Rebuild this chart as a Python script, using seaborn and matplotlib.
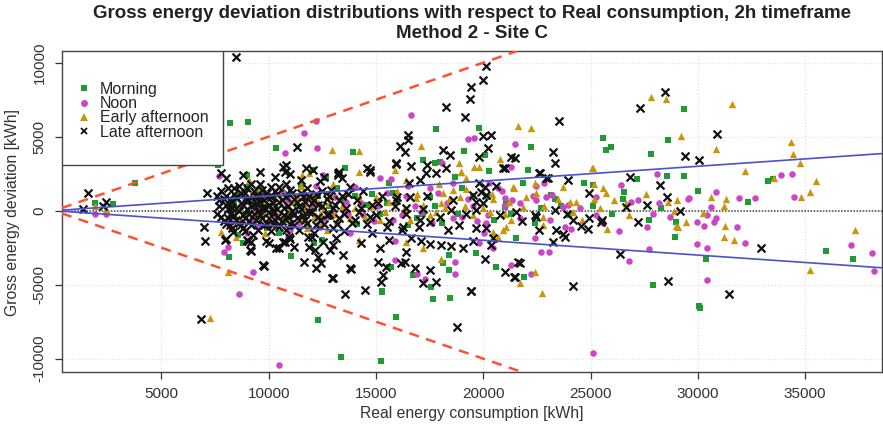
import numpy as np
import pandas as pd
import matplotlib
matplotlib.use('Agg')
import matplotlib.pyplot as plt
from matplotlib.patches import Rectangle
from matplotlib.lines import Line2D
import seaborn as sns

sns.set_style("white")
plt.rcParams['font.family'] = ['Liberation Sans', 'DejaVu Sans']


# ── Data (real consumption kWh, gross deviation kWh) ─────────
morning = [
    (1900, 500), (2750, 450), (3750, 1900),
    (8180, 5920), (9030, 5970), (7630, 3090), (8980, 2410), (10330, 4240),
    (13920, 3950), (12060, 2750), (13580, 2860), (12680, 2190), (11520, 1740),
    (15630, 1850), (17810, 5500), (19820, 5570), (22230, 4320), (19090, 4060),
    (17730, 3200), (17180, 3430), (17980, 3310), (18660, 2300), (20260, 2680),
    (20060, 3760), (22070, 2750), (21840, 1890), (21070, 500), (24680, 1850),
    (25100, 1740), (23160, 1060), (23360, 770), (20990, 270), (17730, 320),
    (15790, 1180), (25570, 4890), (25730, 4100), (25930, 4280), (27820, 3830),
    (28630, 4760), (29340, 6850), (27150, 2120), (28550, 2360), (29340, 2360),
    (33290, 2030), (33520, 2120), (26580, 1290), (29990, 1350), (32320, 570),
    (8570, -1640), (8800, -2160), (8150, -3150), (11050, -3060), (12290, -7380),
    (13380, -9860), (15250, -10160), (15950, -7160), (15280, -5430), (17680, -5970),
    (18470, -5920), (15630, -3780), (15300, -5470), (15710, -3780), (16720, -4340),
    (17570, -5140), (18110, -3550), (18400, -2990), (18400, -4010), (19640, -2880),
    (20600, -3780), (21920, -4460), (21530, -1870), (28990, -740), (28940, -1800),
    (27900, -5020), (30040, -6440), (30120, -6550), (30380, -3280), (35970, -2700),
    (37210, -3280), (9900, -1200), (12500, -2000), (12100, -2200),
    (8400, 600), (8900, -300), (9500, 1300), (10200, 800), (10800, -600),
    (11300, 300), (11800, -1000), (12300, 1000), (12900, -400), (13500, 700),
    (14100, -900), (14600, 400), (15200, -200), (16000, 600), (16900, -500),
    (17500, 900), (9000, 1600), (10500, -1500), (13200, 1500), (14800, 1100),
    (18800, -200), (19500, 1000), (20500, -600), (22700, 200), (24000, -300),
    (26000, -200),
    (8600, 1000), (9300, -900), (10000, 300), (10700, 1100), (11600, -400),
    (12800, 300), (14000, 1000), (15500, 500), (16500, -1000), (17200, -200),
    (18100, -800), (19000, 1500), (20200, 900), (21300, -200), (22400, -800),
    (23600, 300), (25100, 300), (26500, 800), (27700, -600), (28300, 200),
]

noon = [
    (1900, -200), (2400, -250),
    (7680, 2360), (10740, 3900), (12220, 6080), (11630, 5270), (12260, 4260),
    (16610, 6470), (19280, 4820), (19560, 4930), (21500, 4490), (15170, 2190),
    (12520, 2410), (18090, 3200), (20290, 1890), (20880, 1350), (21690, 500),
    (22930, 950), (21300, 2970), (22850, 1850), (22470, 1670), (20990, 880),
    (21350, 720), (22470, 720), (23210, 1060), (23700, 270), (15710, 2120),
    (17500, 1510), (18580, 1850), (28100, 2460), (26430, 1740), (28210, 500),
    (29570, 840), (30850, 1280), (31900, 840), (32670, 840), (33880, 2410),
    (34370, 2460), (34460, 950), (27200, 720), (29530, 770), (25260, 950),
    (23940, 390), (30620, 230),
    (8120, -2430), (9260, -4120), (8610, -5650), (10480, -10430), (7900, -2800),
    (15870, -2050), (15870, -3330), (18660, -3490), (18660, -4300), (17300, -4600),
    (16900, -4300), (20140, -850), (20020, -1530), (20440, -2540), (19800, -2200),
    (21300, -3670), (22230, -4300), (22700, -2810), (23080, -2810), (22390, -1870),
    (23800, -1080), (25100, -9640), (25260, -290), (26310, -1350), (27620, -1120),
    (27740, -2610), (26810, -3380), (28680, -400), (29950, -740), (30300, -1010),
    (30770, -740), (30410, -2540), (29950, -2270), (30410, -4680), (31830, -1120),
    (32200, -2200), (37140, -2320), (38120, -2880), (38230, -4070), (30850, -510),
    (30410, -290), (24100, -1240), (13800, -1500), (11000, -1300),
    (8700, 300), (9200, -600), (9700, 1100), (10300, -200), (10900, 700),
    (11400, -800), (12000, 300), (12600, -500), (13100, 900), (13700, -200),
    (14300, 500), (14900, -700), (15500, 1200), (16200, -300), (16800, 300),
    (17600, -800), (18300, 500), (19000, -400), (19700, -700), (20700, 1500),
    (9500, -1100), (12200, 1700), (14000, 1600), (16500, 1700), (19500, 300),
    (8300, -400), (8900, 800), (9400, 200), (10000, -800), (10600, 1300),
    (11100, -300), (11700, 1000), (12400, -1100), (13000, -300), (13600, 600),
    (14400, -300), (15100, 300), (15800, -600), (16400, 1000), (17100, -100),
    (17900, 1200), (18600, -500), (19300, 800), (20200, -300), (21000, 300),
    (21700, -500), (22300, 1000), (23100, -600), (24500, 200), (25600, -800),
    (26900, 600), (27900, -200), (9000, -1500), (10900, -1800),
]

early_afternoon = [
    (1900, 300), (2400, 100),
    (7250, -7270), (9070, 2070), (9260, 1200), (7790, -1460), (8490, -1760),
    (8100, -4120), (9810, -1530), (12940, 4100), (14230, 4030), (14230, 2640),
    (15870, 2750), (11870, 2570), (11560, 2410), (17110, 4370), (18890, 3240),
    (18940, 2640), (20800, 3470), (19570, 2970), (21380, 1620), (22430, 1850),
    (17960, 1800), (18970, 2640), (19820, 2970), (23700, 1620), (22470, 1220),
    (24330, 610), (25180, 770), (21640, 5720), (22230, 5610), (25100, 2910),
    (27820, 7700), (28520, 7550), (31580, 7230), (29220, 5070), (30850, 4150),
    (25070, 2860), (32200, 2700), (33570, 2190), (34340, 4660), (34420, 3830),
    (34760, 3200), (35510, 2010), (34810, 950), (35230, 1240), (25600, 1510),
    (25730, 1220), (26070, 720), (26660, 540), (28600, 610), (29030, 720),
    (30620, 950), (31320, 770), (31240, 320), (25460, 160), (30230, -180),
    (28910, 0), (24020, 610), (25150, 1780), (19200, 2190), (19200, 1450),
    (21420, 1510), (20420, 1110), (20440, 770), (21840, 270), (22820, 320),
    (16380, 2070), (16880, 840), (18110, 1180), (18040, 500), (19130, 320),
    (18580, 1400),
    (21300, -630), (21070, -1080), (20910, -1300), (20440, -1420), (20680, -1760),
    (22770, -970), (16410, -2100), (17180, -2500), (18040, -3260), (22430, -4120),
    (21730, -4900), (22730, -5580), (14230, -1980), (25750, -1260), (24600, -600),
    (28990, -1030), (29450, -740), (29060, -1080), (31270, -1030), (31200, -1800),
    (31670, -1980), (37340, -1300), (35240, -4010),
    (8200, 200), (8600, -500), (9000, 900), (9400, -300), (9800, 400),
    (10100, -900), (10500, 1200), (10900, -100), (11200, 600), (11600, -600),
    (12000, 1100), (12400, -200), (12800, 500), (13200, -700), (13600, 1200),
    (14000, 200), (14500, -400), (15000, 900), (15400, -100), (16000, 1300),
    (16600, -600), (17200, 400), (17800, -100), (18400, 800), (9600, 1600),
    (11500, 1700), (13000, 1800), (10300, 300), (11800, -1200), (12700, -1300),
    (20000, 200), (21000, -200),
    (9800, -200), (10200, 700), (10600, -300), (10800, 400), (11000, -700),
    (11300, 1000), (11500, -200), (11700, 300), (11900, 800), (12100, -400),
    (12300, 600), (12500, -800), (12600, 100), (12900, 1000), (13100, -200),
    (13400, 300), (13800, -500), (14200, 900), (14700, 300), (15200, -600),
    (15600, 600), (16300, 100), (16900, 1100), (17500, -300), (18200, 200),
    (18900, 900), (19500, -300), (20300, -100), (21200, 600), (22000, 900),
    (22800, -400), (23500, 800), (24200, -100), (26800, -300), (27600, 1100),
    (8800, 1300), (9300, 700), (10000, 1000),
]

late_afternoon = [
    (1350, 100), (1600, 1200), (2400, 600), (2300, 300),
    (6830, -7320), (6970, -1100), (7050, -2030), (7120, 1200), (8490, 10360),
    (7790, 2530), (11330, 4320), (20140, 9780), (20010, 8830), (19440, 8340),
    (19360, 7550), (18270, 7030), (19130, 6310), (16100, 4370), (16480, 5120),
    (16480, 4780), (16330, 3990), (19980, 5050), (20370, 5120), (20210, 4220),
    (23520, 6080), (23240, 3990), (23350, 3240), (23940, 2070), (18110, 4100),
    (18430, 3760), (19820, 3650), (20910, 2860), (21300, 3650), (22620, 2530),
    (22930, 2190), (18270, 2860), (17390, 3090), (17340, 2530), (16640, 3020),
    (15950, 3160), (14700, 2750), (13300, 2640), (12060, 2750), (10820, 3090),
    (13220, 2410), (14570, 2860), (19820, 1850), (24950, 1180), (21530, -70),
    (28480, 8040), (27310, 6960), (30900, 5160), (29410, 3720), (30030, 3430),
    (26860, 2300), (28240, 1740), (28550, 900), (26660, 270), (27620, 390),
    (29190, -20), (10660, 2970), (10740, 2640), (11720, 2860), (13220, 2570),
    (14700, 2640), (15950, 3200), (17810, 2530), (20600, 1670), (20060, 1620),
    (19900, 1280), (20130, 1060), (19510, 1060), (19640, 610), (23360, 50),
    (22390, -290), (15950, 720), (16410, 160), (17180, 90), (18480, 50),
    (19670, 50), (17030, 2070), (16560, 1850), (22650, 2530), (23010, 2230),
    (21460, 3540), (20990, 2860),
    (8030, -1910), (9030, -2030), (9190, -2720), (9780, -3740), (9890, -2070),
    (10480, -2540), (10770, -2140), (7950, -1980), (9730, -3670), (9110, -2650),
    (9190, -2100), (8330, -1420), (9260, -1640), (10350, -2540), (10660, -2100),
    (10970, -1760), (11200, -2430), (11830, -1760), (11870, -2430), (12140, -2650),
    (12290, -3110), (12450, -3550), (12220, -3890), (12990, -4530), (12840, -2650),
    (12530, -2100), (13150, -1870), (13460, -2990), (13540, -5650), (13810, -3890),
    (14510, -5360), (15090, -3450), (15480, -3780), (15320, -4340), (15250, -4800),
    (15630, -1980), (11640, -3450), (12960, -4570), (13820, -3940), (18770, -7880),
    (19440, -5400), (24170, -5090), (21610, -3490), (20090, -3290), (20990, -4120),
    (21450, -4500), (16250, -1080), (17030, -630), (17500, -740), (18890, -970),
    (18350, -1300), (16640, -1870), (17110, -2050), (17500, -2270), (18040, -2320),
    (18480, -2390), (19050, -2540), (19510, -2050), (20370, -2320), (20440, -1820),
    (19670, -1190), (20140, -1190), (16410, -2770), (16330, -3450), (16180, -3550),
    (16800, -3890), (17180, -4900), (17500, -4010), (17810, -4800), (19440, -5430),
    (21690, -3550), (21460, -4460), (23240, -2100), (23700, -1590), (23400, -1300),
    (22470, -400), (24920, -510), (24870, -1260), (25490, -740), (25540, -630),
    (24560, -1030), (24170, -630), (23890, -220), (23830, -1760), (26390, -2950),
    (27230, -780), (28600, -4730), (31470, -5650), (32950, -2500), (14300, -2200),
    (14800, -1500), (15200, -2500),
    (7700, 300), (7800, -400), (7900, 800), (8000, -900), (8100, 100),
    (8100, 1500), (8200, -200), (8300, 600), (8300, -1200), (8400, 1100),
    (8500, -600), (8500, 200), (8600, 1700), (8700, -1000), (8700, 500),
    (8800, -300), (8900, 1200), (8900, -1400), (9000, 100), (9100, 700),
    (9100, -700), (9200, 1800), (9300, -200), (9300, 400), (9400, 1000),
    (9500, -1300), (9500, 0), (9600, 600), (9700, -500), (9700, 1400),
    (9800, 200), (9900, -900), (9900, 900), (10000, -100), (10100, 1600),
    (10100, -1400), (10200, 500), (10300, -600), (10400, 1100), (10400, 100),
    (10500, -1100), (10600, 700), (10700, -300), (10800, 1800), (10900, 300),
    (11000, -900), (11100, 1200), (11200, -200), (11300, 600), (11400, -1300),
    (11500, 2100), (11500, 100), (11600, 900), (11700, -600), (11800, 1500),
    (11900, -100), (12000, 500), (12100, -1500), (12200, 1100), (12300, -400),
    (12400, 2000), (12500, 300), (12600, -900), (12700, 800), (12800, -200),
    (12900, 1400), (13000, -1200), (13100, 400), (13300, -500), (13400, 1000),
    (13500, -1400), (13600, 200), (13800, 1600), (13900, -800), (14100, 700),
    (14200, -100), (14400, 1300), (14600, -900), (14800, 400), (15000, -300),
    (15300, 1000), (15600, -700), (15900, 300), (16200, -1300), (16600, 900),
    (7600, 1000), (8000, 2200), (8800, 2400), (9600, 2600), (10300, 2300),
    (11000, 2500), (12600, 2300), (13400, 2200), (9000, -2000), (10000, -2200),
    (11000, -1900), (12000, -1800), (13000, -2300),
    (7600, -200), (7700, 700), (7800, 1300), (7900, -700), (8000, 400),
    (8000, 1000), (8100, -500), (8200, 800), (8200, -1000), (8300, 200),
    (8400, -300), (8400, 1500), (8500, 900), (8600, -800), (8600, 0),
    (8700, 1200), (8800, 400), (8800, -1200), (8900, -500), (9000, 700),
    (9000, 1500), (9100, -200), (9200, 300), (9200, -1000), (9300, 1300),
    (9400, -600), (9400, 500), (9500, 900), (9600, -300), (9600, 1800),
    (9700, 200), (9800, -1000), (9800, 700), (9900, 1200), (10000, -500),
    (10000, 400), (10100, 900), (10200, -900), (10200, 0), (10300, 1300),
    (10400, -400), (10500, 600), (10500, 1600), (10600, -700), (10700, 200),
    (10800, -1300), (10800, 900), (10900, -400), (11000, 1400), (11100, 0),
    (11200, -1000), (11200, 800), (11300, -500), (11400, 300), (11500, 1200),
    (11600, -300), (11700, 600), (11800, -800), (11900, 1000), (12000, -100),
    (12100, 700), (12200, -1000), (12300, 400), (12400, -600), (12500, 1300),
    (12700, -300), (12800, 1000), (13000, 200), (13200, -900), (13300, 700),
    (13500, -200), (13700, 1100), (14000, -600), (14300, 200), (14700, -400),
    (15100, 500), (15500, -1100), (16000, 900), (16400, -200), (17000, -1100),
    (17400, 1000), (18000, -400), (18600, 700), (19200, -200), (20000, 500),
    (20800, -300), (21800, -700), (22600, -1300),
]

periods = ['Morning', 'Noon', 'Early afternoon', 'Late afternoon']
series = [morning, noon, early_afternoon, late_afternoon]

x_ticks = [5000, 10000, 15000, 20000, 25000, 30000, 35000]
y_ticks = [-10000, -5000, 0, 5000, 10000]

# reference slopes: +-50% band and +-10% band
band_slope = 0.5
fit_slope = 0.1

df = pd.concat(
    [pd.DataFrame(pts, columns=['Real', 'Deviation']).assign(Period=p)
     for p, pts in zip(periods, series)],
    ignore_index=True,
)

# ── Styles ───────────────────────────────────────────────────
colors = {'Morning': '#1f9a34', 'Noon': '#cc44c8',
          'Early afternoon': '#c8960c', 'Late afternoon': '#111111'}
markers = {'Morning': 's', 'Noon': 'o', 'Early afternoon': '^', 'Late afternoon': 'x'}
sizes = {'Morning': 20, 'Noon': 22, 'Early afternoon': 28, 'Late afternoon': 32}


# ── Plot ─────────────────────────────────────────────────────
fig = plt.figure(figsize=(8.83, 4.36), dpi=100)
ax = fig.add_axes([62 / 883, 1 - 372 / 436, 820 / 883, 321 / 436])

ax.grid(True, color='#e2e2e2', linestyle=':', linewidth=0.9)
ax.set_axisbelow(True)

for p in periods:
    sub = df[df['Period'] == p]
    if markers[p] == 'x':
        sns.scatterplot(data=sub, x='Real', y='Deviation', marker='x',
                        color=colors[p], s=sizes[p], linewidth=1.6,
                        ax=ax, zorder=3, legend=False)
    else:
        sns.scatterplot(data=sub, x='Real', y='Deviation', marker=markers[p],
                        color=colors[p], s=sizes[p], linewidth=0,
                        ax=ax, zorder=3, legend=False)

ax.axhline(0, color='#444444', linestyle=(0, (1, 1)), linewidth=1.1, zorder=2)
for k in (band_slope, -band_slope):
    ax.axline((0, 0), slope=k, color='#ff5030', linestyle=(0, (4, 3)),
              linewidth=1.8, zorder=4)
for k in (fit_slope, -fit_slope):
    ax.axline((0, 0), slope=k, color='#4a52cc', linewidth=1.2, zorder=4)

ax.set_xlim(370, 38580)
ax.set_ylim(-10900, 10790)
ax.set_xticks(x_ticks)
ax.set_yticks(y_ticks)
ax.set_xticklabels([str(t) for t in x_ticks])
ax.set_yticklabels([str(t) for t in y_ticks], rotation=90, va='center')
ax.tick_params(bottom=True, left=True, direction='out', length=5,
               width=0.9, color='#333333', labelsize=11, pad=6,
               labelcolor='#333333')
ax.set_xlabel('')
ax.set_ylabel('')
for sp in ax.spines.values():
    sp.set_color('#444444')
    sp.set_linewidth(1.0)

# legend box (R-style, anchored at the top-left corner)
ax.add_patch(Rectangle((0, 1 - 114 / 321), 161 / 821, 114 / 321,
                       transform=ax.transAxes, facecolor='white',
                       edgecolor='#444444', linewidth=1.0, zorder=5))
handles = [Line2D([], [], linestyle='none', marker=markers[p],
                  color=colors[p], markersize=5 if p != 'Early afternoon' else 6,
                  markeredgewidth=1.3 if p == 'Late afternoon' else 0)
           for p in periods]
leg = ax.legend(handles, periods, loc='upper left', frameon=False,
                bbox_to_anchor=(14 / 821, 1 - 31 / 321), borderaxespad=0,
                borderpad=0, fontsize=11.5, handlelength=1.0,
                handletextpad=0.5, labelspacing=-0.05)
leg.set_zorder(6)

fig.text(472 / 883, 1 - 13 / 436,
         'Gross energy deviation distributions with respect to Real consumption, 2h timeframe',
         ha='center', va='center', fontsize=13.5, fontweight='bold', color='#222222')
fig.text(472 / 883, 1 - 33 / 436, 'Method 2 - Site C',
         ha='center', va='center', fontsize=13.5, fontweight='bold', color='#222222')
fig.text(472 / 883, 1 - 413 / 436, 'Real energy consumption [kWh]',
         ha='center', va='center', fontsize=11.3, color='#333333')
fig.text(13 / 883, 1 - 212 / 436, 'Gross energy deviation [kWh]',
         ha='center', va='center', rotation=90, fontsize=11.3, color='#333333')

plt.savefig('out.png', dpi=100)
plt.close()
